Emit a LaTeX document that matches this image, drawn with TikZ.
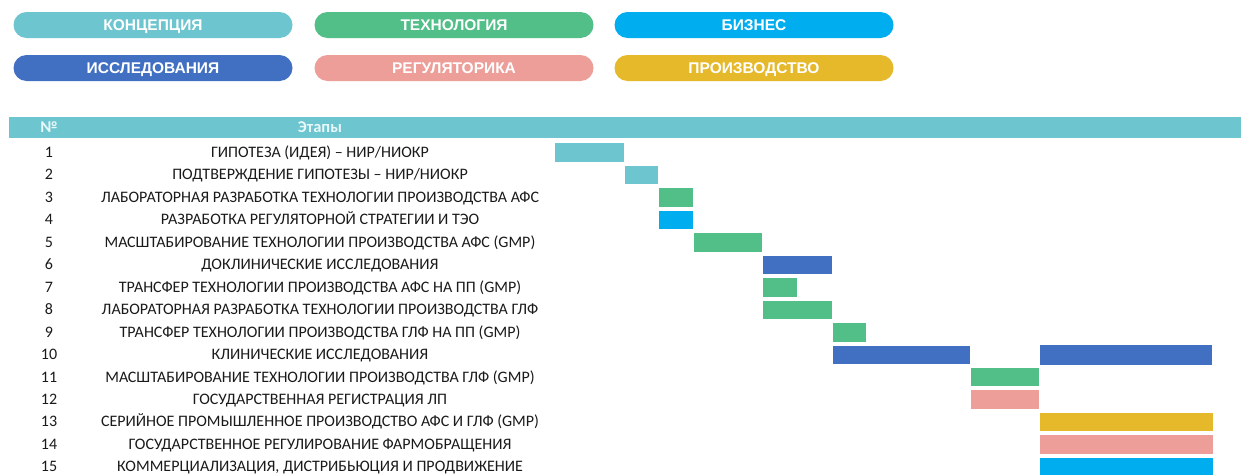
\documentclass[tikz,border=0pt]{standalone}
\usepackage{fontspec}
\setmainfont{Carlito}
\newfontfamily\legendfont{Liberation Sans}
\definecolor{cConcept}{HTML}{6CC5CF}
\definecolor{cTech}{HTML}{52BE88}
\definecolor{cBiz}{HTML}{00AEEF}
\definecolor{cRes}{HTML}{4170C3}
\definecolor{cReg}{HTML}{EE9E98}
\definecolor{cProd}{HTML}{E6B92A}
\definecolor{cHeadText}{HTML}{E8F7F9}
\definecolor{cText}{HTML}{1A1A1A}
\begin{document}
\begin{tikzpicture}[x=1pt,y=-1pt,
  pill/.style={rounded corners=13pt, minimum width=279pt, minimum height=26pt, inner sep=0pt, text height=11.1pt, text depth=0pt, text=white, font=\legendfont\bfseries\fontsize{15.5}{17}\selectfont},
  bar/.style={draw=white, line width=0.6pt, inner sep=0pt, minimum height=19.5pt, anchor=west},
  rowtext/.style={font=\fontsize{16}{19}\selectfont, anchor=base, inner sep=0pt, text=cText},
  headtext/.style={font=\bfseries\fontsize{16.5}{18}\selectfont, inner sep=0pt, text height=10.6pt, text depth=0pt, text=cHeadText},
]
\useasboundingbox (0,0) rectangle (1241,474);
\fill[white] (0,0) rectangle (1241,474);
% legend
\node[pill, fill=cConcept] (lconcept) at (153,25) {КОНЦЕПЦИЯ};
\node[pill, fill=cTech] (ltech) at (454,25) {ТЕХНОЛОГИЯ};
\node[pill, fill=cBiz] (lbiz) at (754,25) {БИЗНЕС};
\node[pill, fill=cRes] (lres) at (153,68) {ИССЛЕДОВАНИЯ};
\node[pill, fill=cReg] (lreg) at (454,68) {РЕГУЛЯТОРИКА};
\node[pill, fill=cProd] (lprod) at (754,68) {ПРОИЗВОДСТВО};
% header
\node[fill=cConcept, minimum width=1232pt, minimum height=21pt, anchor=north west, inner sep=0pt] (header) at (9,117) {};
\node[headtext] (hnum) at (49,127.5) {№};
\node[headtext] (hstage) at (320,127.5) {Этапы};
% rows
\foreach \n/\txt/\s/\l/\c in {
  1/{ГИПОТЕЗА (ИДЕЯ) – НИР/НИОКР}/0/2/cConcept,
  2/{ПОДТВЕРЖДЕНИЕ ГИПОТЕЗЫ – НИР/НИОКР}/2/1/cConcept,
  3/{ЛАБОРАТОРНАЯ РАЗРАБОТКА ТЕХНОЛОГИИ ПРОИЗВОДСТВА АФС}/3/1/cTech,
  4/{РАЗРАБОТКА РЕГУЛЯТОРНОЙ СТРАТЕГИИ И ТЭО}/3/1/cBiz,
  5/{МАСШТАБИРОВАНИЕ ТЕХНОЛОГИИ ПРОИЗВОДСТВА АФС (GMP)}/4/2/cTech,
  6/{ДОКЛИНИЧЕСКИЕ ИССЛЕДОВАНИЯ}/6/2/cRes,
  7/{ТРАНСФЕР ТЕХНОЛОГИИ ПРОИЗВОДСТВА АФС НА ПП (GMP)}/6/1/cTech,
  8/{ЛАБОРАТОРНАЯ РАЗРАБОТКА ТЕХНОЛОГИИ ПРОИЗВОДСТВА ГЛФ}/6/2/cTech,
  9/{ТРАНСФЕР ТЕХНОЛОГИИ ПРОИЗВОДСТВА ГЛФ НА ПП (GMP)}/8/1/cTech,
  10/{КЛИНИЧЕСКИЕ ИССЛЕДОВАНИЯ}/8/4/cRes,
  11/{МАСШТАБИРОВАНИЕ ТЕХНОЛОГИИ ПРОИЗВОДСТВА ГЛФ (GMP)}/12/2/cTech,
  12/{ГОСУДАРСТВЕННАЯ РЕГИСТРАЦИЯ ЛП}/12/2/cReg,
  13/{СЕРИЙНОЕ ПРОМЫШЛЕННОЕ ПРОИЗВОДСТВО АФС И ГЛФ (GMP)}/14/5/cProd,
  14/{ГОСУДАРСТВЕННОЕ РЕГУЛИРОВАНИЕ ФАРМОБРАЩЕНИЯ}/14/5/cReg,
  15/{КОММЕРЦИАЛИЗАЦИЯ, ДИСТРИБЬЮЦИЯ И ПРОДВИЖЕНИЕ}/14/5/cBiz}{
  \pgfmathsetmacro\yc{152.5+(\n-1)*22.45}
  \pgfmathsetmacro\yb{\yc+5.0}
  \pgfmathsetmacro\xs{554.3+\s*34.65}
  \pgfmathsetmacro\wl{\l*34.65}
  \node[rowtext] (n\n) at (49,\yb) {\n};
  \node[rowtext] (t\n) at (320,\yb) {\txt};
  \node[bar, fill=\c, minimum width=\wl pt] (b\n) at (\xs,\yc) {};
}
\node[bar, fill=cRes, minimum width=173.25pt, minimum height=21pt] (b10b) at (1039.1,354.55) {};
\end{tikzpicture}
\end{document}
